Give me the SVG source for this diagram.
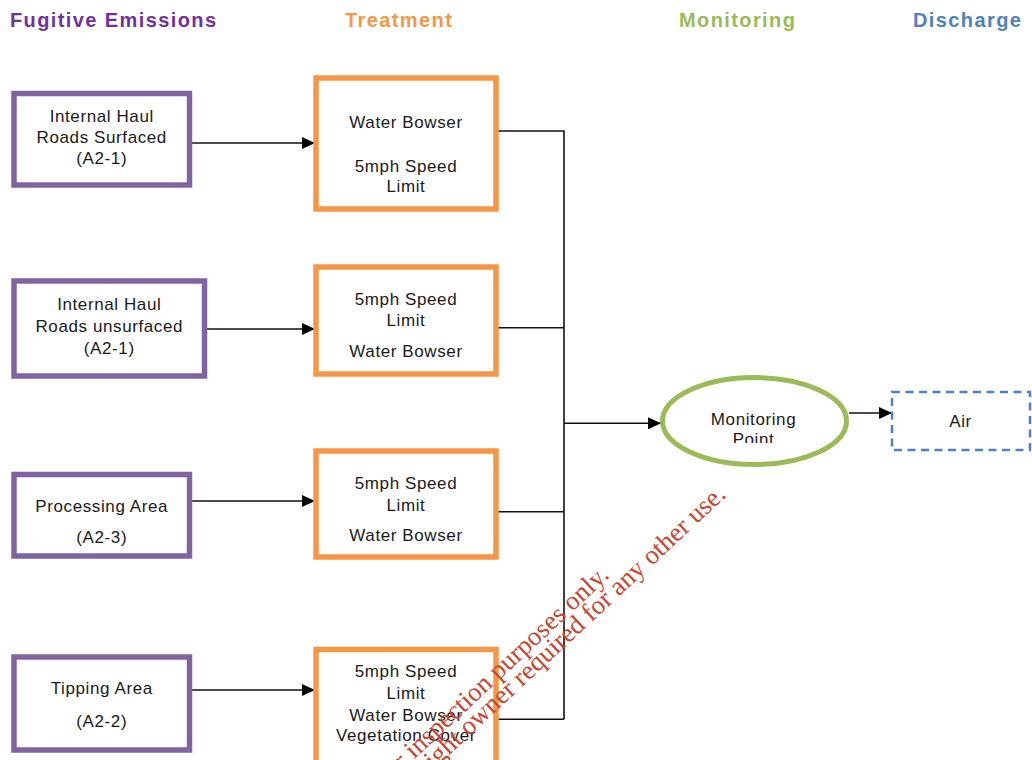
<svg xmlns="http://www.w3.org/2000/svg" width="1032" height="760" viewBox="0 0 1032 760">
<style>
.hdr{font-family:"Liberation Sans",Arial,sans-serif;font-weight:bold;font-size:20px;letter-spacing:1.4px}
.t{font-family:"Liberation Sans",Arial,sans-serif;font-size:17px;letter-spacing:0.6px;fill:#1a1a1a;text-anchor:middle}
.src{fill:#fff;stroke:#8064A2;stroke-width:5.5}
.trt{fill:#fff;stroke:#F79646;stroke-width:5.5}
.con{fill:none;stroke:#111;stroke-width:1.6}
.wm{font-family:"Liberation Serif","Times New Roman",serif;font-size:26.5px;fill:#C8442F;text-anchor:middle}
</style>
<defs>
<marker id="ah" markerUnits="userSpaceOnUse" markerWidth="13" markerHeight="12" refX="13" refY="6" orient="auto">
<path d="M0,0 L13,6 L0,12 z" fill="#000"/>
</marker>
<clipPath id="mpclip"><rect x="660" y="370" width="190" height="73"/></clipPath>
</defs>
<rect width="1032" height="760" fill="#fff"/>
<g id="headers">
<text class="hdr" x="10" y="27" fill="#7030A0">Fugitive Emissions</text>
<text class="hdr" x="345" y="27" fill="#F79646">Treatment</text>
<text class="hdr" x="679" y="27" fill="#9BBB59">Monitoring</text>
<text class="hdr" x="913" y="27" fill="#4F81BD">Discharge</text>
</g>
<g id="connectors">
<path class="con" d="M189.5,143 H315" marker-end="url(#ah)"/>
<path class="con" d="M204.5,329 H315" marker-end="url(#ah)"/>
<path class="con" d="M189.5,501 H315" marker-end="url(#ah)"/>
<path class="con" d="M189.5,690 H315" marker-end="url(#ah)"/>
<path class="con" d="M496,131 H564 V719.3 M496,327.7 H564 M496,511.7 H564 M496,719.3 H564"/>
<path class="con" d="M564,423.3 H661" marker-end="url(#ah)"/>
<path class="con" d="M849,413 H892" marker-end="url(#ah)"/>
</g>
<g id="src1">
<rect class="src" x="14" y="93.5" width="175.5" height="91.5"/>
<text class="t" x="101.75" y="121.7">Internal Haul</text>
<text class="t" x="101.75" y="142.7">Roads Surfaced</text>
<text class="t" x="101.75" y="163.5">(A2-1)</text>
</g>
<g id="src2">
<rect class="src" x="14" y="281" width="190.5" height="95"/>
<text class="t" x="109.25" y="310">Internal Haul</text>
<text class="t" x="109.25" y="331.7">Roads unsurfaced</text>
<text class="t" x="109.25" y="353.5">(A2-1)</text>
</g>
<g id="src3">
<rect class="src" x="14" y="474.5" width="175.5" height="81.5"/>
<text class="t" x="101.75" y="511.7">Processing Area</text>
<text class="t" x="101.75" y="543.3">(A2-3)</text>
</g>
<g id="src4">
<rect class="src" x="14" y="657" width="175.5" height="93"/>
<text class="t" x="101.75" y="694">Tipping Area</text>
<text class="t" x="101.75" y="727.3">(A2-2)</text>
</g>
<g id="trt1">
<rect class="trt" x="316" y="78" width="180" height="131"/>
<text class="t" x="406" y="128.3">Water Bowser</text>
<text class="t" x="406" y="171.7">5mph Speed</text>
<text class="t" x="406" y="191.7">Limit</text>
</g>
<g id="trt2">
<rect class="trt" x="316" y="267" width="180" height="107"/>
<text class="t" x="406" y="305">5mph Speed</text>
<text class="t" x="406" y="326">Limit</text>
<text class="t" x="406" y="356.7">Water Bowser</text>
</g>
<g id="trt3">
<rect class="trt" x="316" y="451" width="180" height="106"/>
<text class="t" x="406" y="489.3">5mph Speed</text>
<text class="t" x="406" y="510.7">Limit</text>
<text class="t" x="406" y="540.7">Water Bowser</text>
</g>
<g id="trt4">
<rect class="trt" x="316" y="649.5" width="180" height="120"/>
<text class="t" x="406" y="677.3">5mph Speed</text>
<text class="t" x="406" y="699.3">Limit</text>
<text class="t" x="406" y="720.7">Water Bowser</text>
<text class="t" x="406" y="741">Vegetation Cover</text>
</g>
<g id="monitor">
<ellipse cx="754.5" cy="421" rx="92" ry="43.5" fill="#fff" stroke="#9BBB59" stroke-width="5"/>
<g clip-path="url(#mpclip)">
<text class="t" x="753.5" y="425">Monitoring</text>
<text class="t" x="753.5" y="445">Point</text>
</g>
</g>
<g id="air">
<rect x="892" y="392" width="138" height="58" fill="#fff" stroke="#4F81BD" stroke-width="2.5" stroke-dasharray="8 5.5"/>
<text class="t" x="960.5" y="426.7">Air</text>
</g>
<g id="watermark" transform="translate(496.3,682.9) rotate(-43)">
<text class="wm" x="0" y="0">For inspection purposes only.</text>
<text class="wm" x="4.4" y="20.6">Consent of copyright owner required for any other use.</text>
</g>
</svg>
